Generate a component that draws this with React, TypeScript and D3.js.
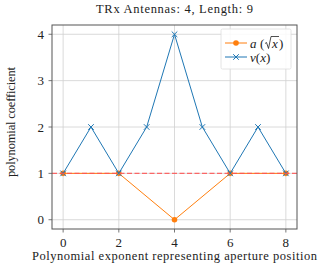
import * as d3 from 'd3';

const aX = [0, 2, 4, 6, 8];
const aY = [1, 1, 0, 1, 1];
const vX = [0, 1, 2, 3, 4, 5, 6, 7, 8];
const vY = [1, 2, 1, 2, 4, 2, 1, 2, 1];
const xTicks = [0, 2, 4, 6, 8];
const yTicks = [0, 1, 2, 3, 4];
const refLevel = 1;

const W = 320;
const H = 267;
const m = { left: 52, right: 23, top: 25, bottom: 38 };
const font = 'Liberation Serif, DejaVu Serif, serif';

export default function App() {
  const x = d3.scaleLinear().domain([-0.4, 8.4]).range([m.left, W - m.right]);
  const y = d3.scaleLinear().domain([-0.2, 4.2]).range([H - m.bottom, m.top]);
  const line = d3.line<[number, number]>().x(d => x(d[0])).y(d => y(d[1]));
  const aPts: [number, number][] = aX.map((v, i) => [v, aY[i]]);
  const vPts: [number, number][] = vX.map((v, i) => [v, vY[i]]);
  const orange = '#ff7f0e';
  const blue = '#1f77b4';
  const cross = (cx: number, cy: number, s: number) =>
    `M${cx - s},${cy - s}L${cx + s},${cy + s}M${cx - s},${cy + s}L${cx + s},${cy - s}`;

  const lx = 221, ly = 29;
  // radical sign for the sqrt in the legend
  const rx = lx + 44, ry = ly + 18.5;
  const radical = `M${rx},${ry - 4}L${rx + 1.5},${ry - 5}L${rx + 3.5},${ry + 1}L${rx + 6},${ry - 11}L${rx + 14},${ry - 11}`;
  return (
    <svg width={W} height={H} fontFamily={font} style={{ position: 'absolute', left: 0, top: 0 }}>
      <rect width={W} height={H} fill="#fff" />
      {xTicks.map(t => (
        <g key={'x' + t}>
          <line x1={x(t)} x2={x(t)} y1={m.top} y2={H - m.bottom} stroke="#d0d0d0" strokeWidth={0.8} />
          <line x1={x(t)} x2={x(t)} y1={H - m.bottom} y2={H - m.bottom + 3.5} stroke="#555" strokeWidth={0.8} />
          <text x={x(t)} y={H - m.bottom + 18} textAnchor="middle" fontSize={13} fill="#222">{t}</text>
        </g>
      ))}
      {yTicks.map(t => (
        <g key={'y' + t}>
          <line x1={m.left} x2={W - m.right} y1={y(t)} y2={y(t)} stroke="#d0d0d0" strokeWidth={0.8} />
          <line x1={m.left - 3.5} x2={m.left} y1={y(t)} y2={y(t)} stroke="#555" strokeWidth={0.8} />
          <text x={m.left - 8} y={y(t) + 4.5} textAnchor="end" fontSize={13} fill="#222">{t}</text>
        </g>
      ))}
      <path d={line(aPts) ?? ''} fill="none" stroke={orange} strokeWidth={1} />
      {aPts.map((p, i) => (
        <circle key={'a' + i} cx={x(p[0])} cy={y(p[1])} r={2.8} fill={orange} />
      ))}
      <path d={line(vPts) ?? ''} fill="none" stroke={blue} strokeWidth={1} />
      {vPts.map((p, i) => (
        <path key={'v' + i} d={cross(x(p[0]), y(p[1]), 2.8)} stroke={blue} strokeWidth={1} />
      ))}
      <line x1={m.left} x2={W - m.right} y1={y(refLevel)} y2={y(refLevel)} stroke="#ff5252" strokeOpacity={0.85}
        strokeWidth={1.4} strokeDasharray="5,2.5" />
      <rect x={m.left} y={m.top} width={W - m.left - m.right} height={H - m.top - m.bottom}
        fill="none" stroke="#555" strokeWidth={1} />
      <g>
        <rect x={lx} y={ly} width={70} height={40} fill="#fff" fillOpacity={0.85} stroke="#ddd" strokeWidth={0.8} rx={1.5} />
        <line x1={lx + 4} x2={lx + 26} y1={ly + 14} y2={ly + 14} stroke={orange} strokeWidth={1} />
        <circle cx={lx + 15} cy={ly + 14} r={2.8} fill={orange} />
        <text x={lx + 29} y={ly + 18.5} fontSize={13} fill="#222">
          <tspan fontStyle="italic">a</tspan>
          <tspan x={lx + 39}>(</tspan>
          <tspan x={lx + 51} fontStyle="italic">x</tspan>
          <tspan x={lx + 58}>)</tspan>
        </text>
        <path d={radical} fill="none" stroke="#222" strokeWidth={0.8} />
        <line x1={lx + 4} x2={lx + 26} y1={ly + 28} y2={ly + 28} stroke={blue} strokeWidth={1} />
        <path d={cross(lx + 15, ly + 28, 2.8)} stroke={blue} strokeWidth={1} />
        <text x={lx + 29} y={ly + 32.5} fontSize={13} fill="#222">
          <tspan fontStyle="italic">v</tspan>
          <tspan>(</tspan>
          <tspan fontStyle="italic">x</tspan>
          <tspan>)</tspan>
        </text>
      </g>
      <text x={(m.left + W - m.right) / 2} y={13} textAnchor="middle" fontSize={12.5} fill="#222"
        textLength={157} lengthAdjust="spacing">
        TRx Antennas: 4, Length: 9
      </text>
      <text x={(m.left + W - m.right) / 2} y={260} textAnchor="middle" fontSize={12.5} fill="#222"
        textLength={285} lengthAdjust="spacing">
        Polynomial exponent representing aperture position
      </text>
      <text transform={`translate(15,${(m.top + H - m.bottom) / 2 - 5}) rotate(-90)`} textAnchor="middle" fontSize={12.5}
        fill="#222" textLength={110} lengthAdjust="spacing">
        polynomial coefficient
      </text>
    </svg>
  );
}
